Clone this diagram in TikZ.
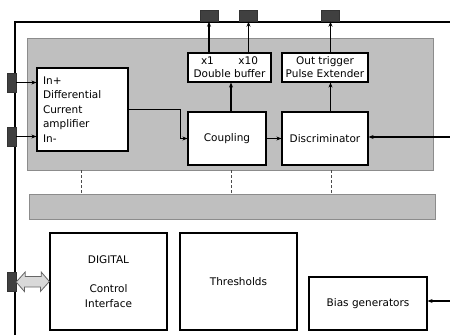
\documentclass[tikz,border=0pt]{standalone}
\usepackage{fontspec}
\setmainfont{DejaVu Sans}
\usetikzlibrary{arrows.meta}

\tikzset{
  blk/.style={draw, fill=white, line width=1.2pt, inner sep=0pt, align=center,
    font=\fontsize{10.5}{14.5}\selectfont},
  tight/.style={font=\fontsize{10.5}{13}\selectfont},
  pad/.style={draw=black!80, fill=black!75, inner sep=0pt},
  arr/.style={-{Stealth[length=5pt, width=4pt]}, line width=1.1pt},
  zone/.style={draw=black!45, fill=black!25, line width=0.8pt, inner sep=0pt},
  link/.style={draw=black!60, fill=black!15, line width=0.8pt, line join=miter},
}

\begin{document}
\begin{tikzpicture}[x=1pt, y=-1pt]
  \useasboundingbox (0,0) rectangle (450,335);

  % chip frame
  \draw[line width=2.5pt] (15,335) -- (15,22) -- (450,22);

  % analog and bus areas
  \node[zone, minimum width=406pt, minimum height=132pt] (ana) at (230,104) {};
  \node[zone, minimum width=406pt, minimum height=25pt] (bar) at (232,206.5) {};

  \node[blk, align=left, text width=79pt, minimum width=91pt, minimum height=83pt] (amp) at (82.5,109.5)
    {In+\\Differential\\Current\\amplifier\\In-};
  \node[blk, minimum width=78pt, minimum height=53pt] (cpl) at (227,138.5) {Coupling};
  \node[blk, tight, minimum width=83pt, minimum height=29pt] (buf) at (229.5,67.5)
    {\makebox[57pt]{x1\hfill x10}\\Double buffer};
  \node[blk, minimum width=86pt, minimum height=53pt] (disc) at (325,138.5) {Discriminator};
  \node[blk, tight, minimum width=86pt, minimum height=29pt] (trig) at (325,67.5)
    {Out trigger\\Pulse Extender};

  % digital part
  \node[blk, minimum width=117pt, minimum height=97pt] (dig) at (108.5,281.5)
    {DIGITAL\\[14.5pt]Control\\Interface};
  \node[blk, minimum width=117pt, minimum height=97pt] (thr) at (238.5,281.5) {Thresholds};
  \node[blk, minimum width=118pt, minimum height=53pt] (bias) at (368,303.5) {Bias generators};

  % pads
  \foreach \n/\x in {po1/209, po2/248.5, po3/330.5}
    \node[pad, minimum width=18pt, minimum height=11pt] (\n) at (\x,16) {};
  \foreach \n/\y in {pi1/82.5, pi2/136.5, pi3/282}
    \node[pad, minimum width=9pt, minimum height=19pt] (\n) at (11.5,\y) {};

  % bus to the control interface
  \draw[link] (pi3.east) -- ++(9,-10) -- ++(0,4.5) -- ++(16,0) -- ++(0,-4.5) -- (dig.west)
    -- ++(-9,10) -- ++(0,-4.5) -- ++(-16,0) -- ++(0,4.5) -- cycle;

  % signal path
  \draw[arr] (pi1.east) -- (pi1.east -| amp.west);
  \draw[arr] (pi2.east) -- (pi2.east -| amp.west);
  \draw[arr] (amp.east) -- ++(52,0) |- (cpl.west);
  \draw[arr] (cpl.east) -- (disc.west);
  \draw[arr] ([xshift=4pt]cpl.north) -- ([xshift=4pt]cpl.north |- buf.south);
  \draw[arr] (disc.north -| po3) -- (trig.south -| po3);
  \draw[arr] (buf.north -| po1) -- (po1.south);
  \draw[arr] (buf.north -| po2) -- (po2.south);
  \draw[arr] (trig.north -| po3) -- (po3.south);

  \coordinate (rd) at (450,137);
  \coordinate (rb) at (450,301);
  \draw[arr] (rd) -- (rd -| disc.east);
  \draw[arr] (rb) -- (rb -| bias.east);

  \foreach \x in {81, 231, 331}
    \draw[dash pattern=on 3pt off 2pt, black!70] (\x,0 |- ana.south) -- (\x,0 |- bar.north);
\end{tikzpicture}
\end{document}
